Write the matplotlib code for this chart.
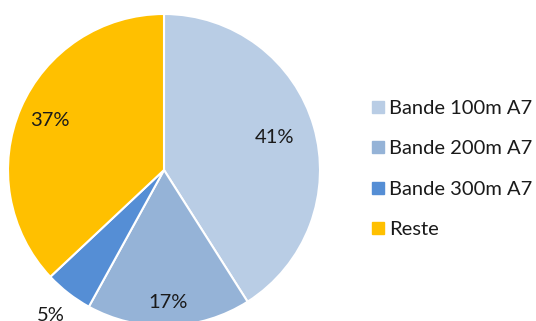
import matplotlib
matplotlib.use("Agg")
import matplotlib.pyplot as plt
from matplotlib.lines import Line2D
import numpy as np

categories = ["Bande 100m A7", "Bande 200m A7", "Bande 300m A7", "Reste"]
values = [41, 17, 5, 37]
colors = ["#B9CDE5", "#95B3D7", "#558ED5", "#FFC000"]
label_radius = [0.74, 0.85, 1.18, 0.80]

W, H = 536, 321
fig = plt.figure(figsize=(W / 100, H / 100), dpi=100)
ax = fig.add_axes([0, 0, 1, 1])

font = "Lato"
fs = 14.5
cx, cy, r = 164, H - 170, 156
wedges, _ = ax.pie(values, colors=colors, startangle=90, counterclock=False,
                   center=(cx, cy), radius=r, frame=True,
                   wedgeprops=dict(edgecolor="white", linewidth=1.5))
ax.set_xlim(0, W)
ax.set_ylim(0, H)
ax.set_aspect("equal")
ax.axis("off")

for w, v, f in zip(wedges, values, label_radius):
    ang = np.deg2rad((w.theta1 + w.theta2) / 2)
    ax.text(cx + f * r * np.cos(ang), cy + f * r * np.sin(ang), f"{v}%",
            ha="center", va="center", fontsize=fs, family=font, color="#1a1a1a")

handles = [Line2D([0], [0], marker="s", linestyle="none", markersize=8,
                  markerfacecolor=c, markeredgecolor=c) for c in colors]
leg = fig.legend(handles, categories, loc="center left",
                 bbox_to_anchor=(372 / W, 1 - 169 / H), frameon=False,
                 prop={"family": font, "size": fs}, handlelength=0.55,
                 handletextpad=0.3, labelspacing=1.15, borderaxespad=0,
                 borderpad=0)
for t in leg.get_texts():
    t.set_color("#1a1a1a")

fig.savefig("out.png", dpi=100)
